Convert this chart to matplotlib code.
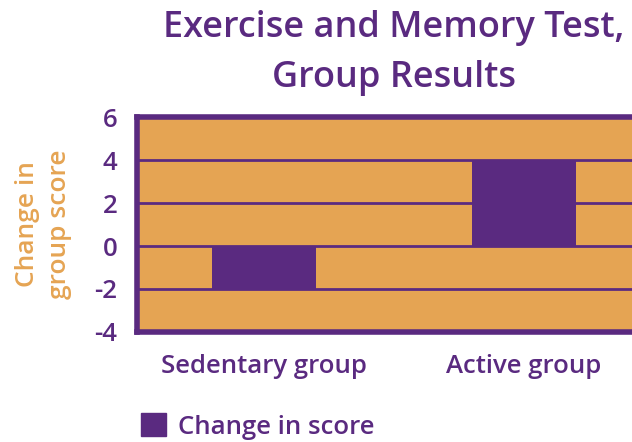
import matplotlib.pyplot as plt
from matplotlib.patches import Patch

groups = ["Sedentary group", "Active group"]
change = [-2, 4]
yticks = [-4, -2, 0, 2, 4, 6]

purple = "#5A2A80"
orange = "#E5A453"

plt.rcParams['font.family'] = ['Open Sans', 'DejaVu Sans']
plt.rcParams['axes.unicode_minus'] = False

fig = plt.figure(figsize=(6.32, 4.42), dpi=100)
ax = fig.add_axes([0.2168, 0.249, 0.813, 0.486])
ax.set_facecolor(orange)

ax.bar(range(len(groups)), change, width=0.4, color=purple, zorder=3,
       label="Change in score")
ax.set_xlim(-0.49, 1.49)
ax.set_ylim(-4, 6)
ax.set_yticks(yticks)
ax.set_xticks(range(len(groups)))
ax.set_xticklabels(groups)
ax.yaxis.grid(True, color=purple, linewidth=2, zorder=1)
ax.set_axisbelow(True)
ax.tick_params(length=0, labelcolor=purple, labelsize=18.5)
for lbl in ax.get_xticklabels() + ax.get_yticklabels():
    lbl.set_fontweight('semibold')
ax.tick_params(axis='y', pad=14)
ax.tick_params(axis='x', pad=16)
for s in ax.spines.values():
    s.set_color(purple)
    s.set_linewidth(4)

ax.set_ylabel("Change in\ngroup score", color=orange, fontsize=19,
              fontweight='semibold', labelpad=16, linespacing=1.4)
ax.set_title("Exercise and Memory Test,\nGroup Results", color=purple,
             fontsize=26, fontweight='semibold', pad=22, linespacing=1.5)

fig.legend(handles=[Patch(color=purple, label="Change in score")],
           loc='center left', bbox_to_anchor=(0.186, 0.035), frameon=False,
           labelcolor=purple, handlelength=1.0, handleheight=1.0,
           handletextpad=0.45, prop={'weight': 'semibold', 'size': 18.5})

fig.savefig("out.png", dpi=100)
